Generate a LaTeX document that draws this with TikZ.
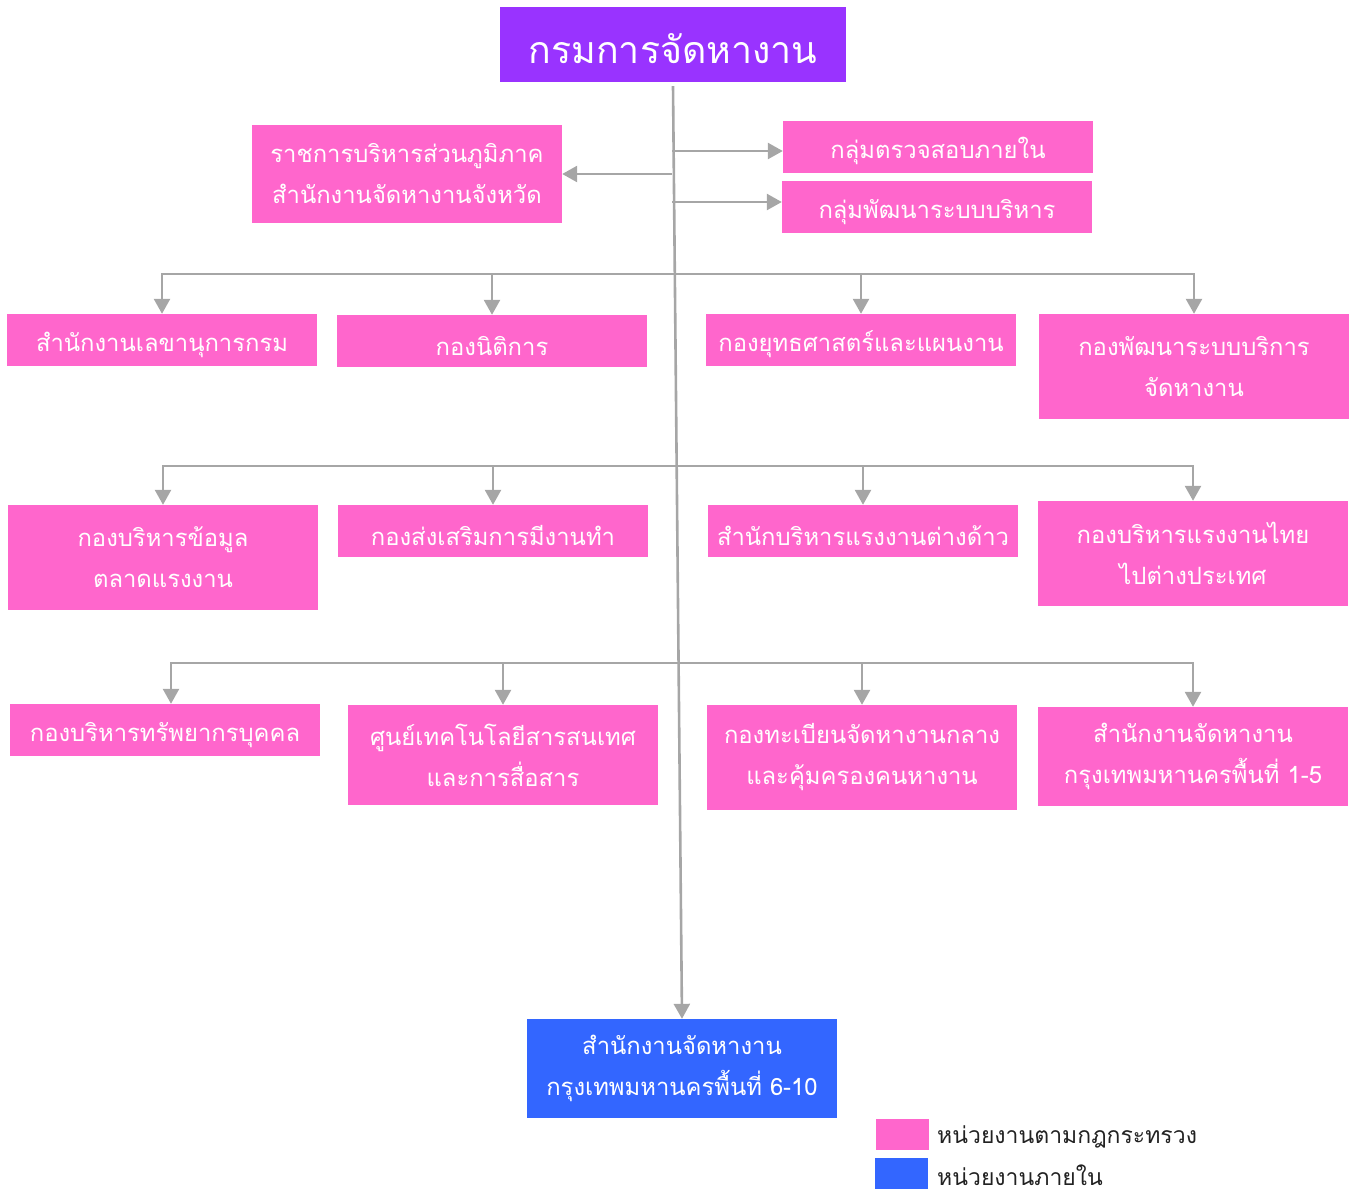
\documentclass[tikz,border=0pt]{standalone}
\usepackage{fontspec}
\newfontfamily\thai[Script=Thai]{Loma}
\usetikzlibrary{arrows.meta}
\definecolor{pinkc}{HTML}{FF66CC}
\definecolor{bluec}{HTML}{3366FF}
\definecolor{purplec}{HTML}{9933FF}
\definecolor{linec}{HTML}{A6A6A6}
\definecolor{legtext}{HTML}{222222}
\tikzset{
  box/.style={fill=pinkc, text=white, inner sep=0pt, minimum width=310pt, minimum height=52pt, align=center, font=\thai\fontsize{23.8}{41}\selectfont, execute at begin node={\rule{0pt}{29pt}}},
  tall/.style={minimum height=105pt},
  conn/.style={draw=linec, line width=2.6pt},
  arr/.style={conn, -{Triangle[width=16pt,length=15pt]}},
  legbox/.style={inner sep=0pt, minimum width=53pt, minimum height=31pt},
  legtxt/.style={anchor=west, inner sep=0pt, text=legtext, font=\thai\fontsize{23}{26}\selectfont}
}
\begin{document}
\begin{tikzpicture}[x=1pt,y=-1pt]
\useasboundingbox (0,0) rectangle (1354,1194);
\node[box, fill=purplec, minimum width=346pt, minimum height=75pt, font=\thai\fontsize{37.5}{40}\selectfont, execute at begin node={\rule{0pt}{38pt}}] (top) at (673,44.5) {กรมการจัดหางาน};
\node[box, minimum height=98pt] (L) at (407,174) {ราชการบริหารส่วนภูมิภาค\\สำนักงานจัดหางานจังหวัด};
\node[box] (R1) at (938,147) {กลุ่มตรวจสอบภายใน};
\node[box] (R2) at (937,207) {กลุ่มพัฒนาระบบบริหาร};
\node[box] (n11) at (162,340) {สำนักงานเลขานุการกรม};
\node[box] (n12) at (492,341) {กองนิติการ};
\node[box] (n13) at (861,340) {กองยุทธศาสตร์และแผนงาน};
\node[box, tall] (n14) at (1194,366.5) {กองพัฒนาระบบบริการ\\จัดหางาน};
\node[box, tall] (n21) at (163,557.5) {กองบริหารข้อมูล\\ตลาดแรงงาน};
\node[box] (n22) at (493,531) {กองส่งเสริมการมีงานทำ};
\node[box] (n23) at (863,531) {สำนักบริหารแรงงานต่างด้าว};
\node[box, tall] (n24) at (1193,553.5) {กองบริหารแรงงานไทย\\ไปต่างประเทศ};
\node[box] (n31) at (165,730) {กองบริหารทรัพยากรบุคคล};
\node[box, minimum height=100pt] (n32) at (503,755) {ศูนย์เทคโนโลยีสารสนเทศ\\และการสื่อสาร};
\node[box, tall] (n33) at (862,757.5) {กองทะเบียนจัดหางานกลาง\\และคุ้มครองคนหางาน};
\node[box, minimum height=99pt] (n34) at (1193,756.5) {สำนักงานจัดหางาน\\กรุงเทพมหานครพื้นที่ 1-5};
\node[box, fill=bluec, minimum height=99pt] (bot) at (682,1068.5) {สำนักงานจัดหางาน\\กรุงเทพมหานครพื้นที่ 6-10};
% legend
\node[legbox, fill=pinkc] (lg1) at (902,1134.5) {};
\node[legbox, fill=bluec] (lg2) at (901.5,1173.5) {};
\node[legtxt] (lt1) at (937,1137) {หน่วยงานตามกฎกระทรวง};
\node[legtxt] (lt2) at (937,1175.5) {หน่วยงานภายใน};
% connectors
\draw[arr] ([yshift=-4pt]top.south) -- (bot.north);
\coordinate (mL) at (672.2,174);
\coordinate (mR1) at (672,151);
\coordinate (mR2) at (672.3,202);
\draw[arr] (mL) -- (L.east |- mL);
\draw[arr] (mR1) -- (R1.west |- mR1);
\draw[arr] (mR2) -- (R2.west |- mR2);
\coordinate (b1) at (675,274);
\coordinate (b2) at (677,466);
\coordinate (b3) at (679,663);
\draw[arr] (b1) -| (n11.north);
\draw[arr] (b1) -| (n12.north);
\draw[arr] (b1) -| (n13.north);
\draw[arr] (b1) -| (n14.north);
\draw[arr] (b2) -| (n21.north);
\draw[arr] (b2) -| (n22.north);
\draw[arr] (b2) -| (n23.north);
\draw[arr] (b2) -| (n24.north);
\draw[arr] (b3) -| ([xshift=6pt]n31.north);
\draw[arr] (b3) -| (n32.north);
\draw[arr] (b3) -| (n33.north);
\draw[arr] (b3) -| (n34.north);
\end{tikzpicture}
\end{document}
